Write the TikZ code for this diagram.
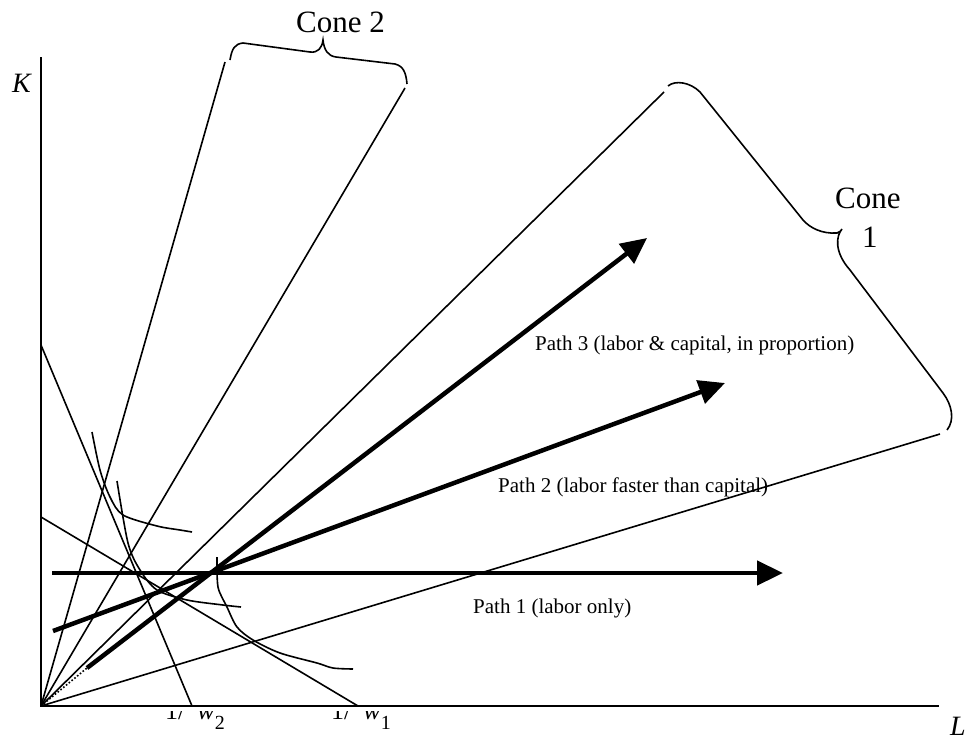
\documentclass[tikz,border=0pt]{standalone}
\usepackage{fontspec}
\setmainfont{Liberation Serif}
\usetikzlibrary{arrows.meta}
\tikzset{
  thinline/.style={line width=1.6pt},
  axisline/.style={line width=2.2pt},
  pathline/.style={line width=4.5pt,-{Triangle[length=26pt,width=24pt]}},
  bracestyle/.style={line width=1.6pt},
  bigtext/.style={font=\fontsize{31}{36}\selectfont, inner sep=0pt},
  axtext/.style={font=\fontsize{28}{32}\selectfont\itshape, inner sep=0pt},
  pathtext/.style={font=\fontsize{21}{24}\selectfont, inner sep=0pt},
  wtext/.style={font=\fontsize{26}{28}\selectfont, inner sep=0pt}
}
\begin{document}
\begin{tikzpicture}[x=1pt,y=-1pt]
\useasboundingbox (0,0) rectangle (979,742);
% coordinates
\coordinate (O) at (41,706);
\coordinate (Ktop) at (41,57);
\coordinate (Lend) at (939,706);
\coordinate (r1) at (225,62);
\coordinate (r2) at (405,88);
\coordinate (r3) at (664,92);
\coordinate (r4) at (940,434);
\coordinate (bA) at (41,517);
\coordinate (bA2) at (358,706);
\coordinate (bB) at (41,345);
\coordinate (bB2) at (192,706);
\coordinate (p1s) at (52,573);
\coordinate (p1e) at (783,573);
\coordinate (p2s) at (53,631);
\coordinate (p2e) at (725,383);
\coordinate (p3s) at (87,668);
\coordinate (p3e) at (647,238);
% axes
\draw[axisline] (Ktop) -- (O) -- (Lend);
% rays
\draw[thinline] (O) -- (r1);
\draw[thinline] (O) -- (r2);
\draw[thinline] (O) -- (r3);
\draw[thinline] (O) -- (r4);
% budget lines
\draw[thinline] (bA) -- (bA2);
\draw[thinline] (bB) -- (bB2);
% isoquants
\draw[thinline] plot[smooth] coordinates {(92,432) (100,470) (110,497) (123,515) (157,526) (180,530) (192,532)};
\draw[thinline] plot[smooth] coordinates {(117,481) (128,543) (140,570) (157,590) (187,600) (223,605) (241,607)};
\draw[thinline] plot[smooth] coordinates {(217,557) (218,587) (227,607) (237,627) (253,640) (280,653) (317,663) (333,668) (353,669)};
% dotted
\draw[line width=1.6pt, dotted] (O) -- (p3s);
% paths
\draw[pathline] (p1s) -- (p1e);
\draw[pathline] (p2s) -- (p2e);
\draw[pathline] (p3s) -- (p3e);
% braces
\draw[bracestyle] (230,60) .. controls (232,48) and (235,44) .. (243,43) -- (310,52) .. controls (318,53) and (322,48) .. (323,40) .. controls (324,50) and (328,56) .. (336,57) -- (395,64) .. controls (403,66) and (406,72) .. (407,84);
\draw[bracestyle] (668,86) .. controls (675,80) and (690,82) .. (700,92) -- (803,220) .. controls (810,228) and (822,234) .. (837,233) .. controls (840,232) and (841,231) .. (842,229) .. controls (836,236) and (834,252) .. (850,270) -- (943,393) .. controls (952,405) and (955,420) .. (947,430);
% texts
\node[bigtext, anchor=base west] (cone2) at (296,32) {Cone 2};
\node[bigtext, anchor=base west] (cone1a) at (835,208) {Cone};
\node[bigtext, anchor=base west] (cone1b) at (862,247) {1};
\node[axtext, anchor=base west] (K) at (12,92) {K};
\node[axtext, anchor=base west] (L) at (950,735) {L};
\node[pathtext, anchor=base west] (t3) at (535,350) {Path 3 (labor \& capital, in proportion)};
\node[pathtext, anchor=base west] (t2) at (498,492) {Path 2 (labor faster than capital)};
\node[pathtext, anchor=base west] (t1) at (473,613) {Path 1 (labor only)};
\begin{scope}
\clip (140,711) rectangle (420,742);
\node[wtext, anchor=base west] (w2) at (165,719) {1/\hspace{12pt}\textit{w}\raisebox{-10pt}{\fontsize{20}{20}\selectfont 2}};
\node[wtext, anchor=base west] (w1) at (331,719) {1/\hspace{12pt}\textit{w}\raisebox{-10pt}{\fontsize{20}{20}\selectfont 1}};
\end{scope}
\end{tikzpicture}
\end{document}
